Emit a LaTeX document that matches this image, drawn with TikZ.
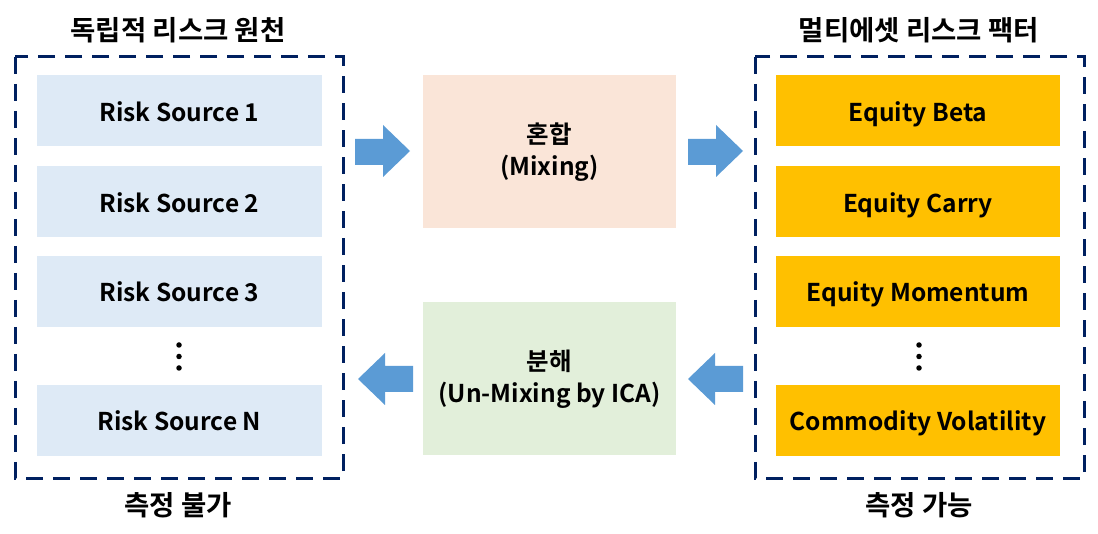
\documentclass[tikz,border=0pt]{standalone}
\usepackage{fontspec}
\setmainfont{Noto Sans CJK KR}[BoldFont={Noto Sans CJK KR Bold}]
\begin{document}
\begin{tikzpicture}[x=1pt,y=-1pt,
  src/.style={fill=blueL,draw=none,minimum width=285pt,minimum height=71pt,inner sep=0pt,text height=21pt,text depth=0pt,font=\bfseries\fontsize{24.5}{28}\selectfont},
  fac/.style={fill=gold,draw=none,minimum width=284pt,minimum height=71pt,inner sep=0pt,text height=21pt,text depth=0pt,font=\bfseries\fontsize{24.5}{28}\selectfont},
  mid/.style={draw=none,minimum width=253pt,minimum height=153pt,align=center,font=\bfseries\fontsize{24.5}{32}\selectfont},
  frame/.style={draw=navy,line width=3pt,dash pattern=on 17pt off 10pt},
  ttl/.style={font=\bfseries\fontsize{27.5}{30}\selectfont},
  bigarrow/.style={fill=arrowblue,draw=none},
  dotc/.style={circle,fill=black,inner sep=0pt,minimum size=5.5pt}]
\definecolor{blueL}{HTML}{DEEAF6}
\definecolor{gold}{HTML}{FFC000}
\definecolor{navy}{HTML}{002060}
\definecolor{arrowblue}{HTML}{5B9BD5}
\definecolor{peach}{HTML}{FAE5D8}
\definecolor{greenL}{HTML}{E2EFDA}
\useasboundingbox (0,0) rectangle (1098,534);
% frames
\draw[frame] (15,57) rectangle (343,478);
\draw[frame] (755,57) rectangle (1084,478);
% titles
\node[ttl] (t1) at (178,30) {독립적 리스크 원천};
\node[ttl] (t2) at (919,30) {멀티에셋 리스크 팩터};
\node[ttl] (b1) at (178,505) {측정 불가};
\node[ttl] (b2) at (919,505) {측정 가능};
% left boxes
\node[src] (s1) at (179.5,111) {Risk Source 1};
\node[src] (s2) at (179.5,202) {Risk Source 2};
\node[src] (s3) at (179.5,291.5) {Risk Source 3};
\node[src] (sn) at (179.5,420.5) {Risk Source N};
\node[dotc] (d1a) at (179,345) {};
\node[dotc] (d1b) at (179,356.5) {};
\node[dotc] (d1c) at (179,368) {};
% right boxes
\node[fac] (f1) at (918,111) {Equity Beta};
\node[fac] (f2) at (918,202) {Equity Carry};
\node[fac] (f3) at (918,291.5) {Equity Momentum};
\node[fac] (fn) at (918,420.5) {Commodity Volatility};
\node[dotc] (d2a) at (919,345) {};
\node[dotc] (d2b) at (919,356.5) {};
\node[dotc] (d2c) at (919,368) {};
% middle
\node[mid,fill=peach] (mix) at (549.5,152) {혼합\\(Mixing)};
\node[mid,fill=greenL] (unmix) at (549.5,379) {분해\\(Un-Mixing by ICA)};
% arrows
\fill[bigarrow] (355,139) -- (383,139) -- (383,125) -- (410,151) -- (383,177) -- (383,165) -- (355,165) -- cycle;
\fill[bigarrow] (688,139) -- (716,139) -- (716,125) -- (743,151) -- (716,177) -- (716,165) -- (688,165) -- cycle;
\fill[bigarrow] (413,366) -- (385,366) -- (385,353) -- (358,379) -- (385,405) -- (385,392) -- (413,392) -- cycle;
\fill[bigarrow] (743,366) -- (715,366) -- (715,353) -- (688,379) -- (715,405) -- (715,392) -- (743,392) -- cycle;
\end{tikzpicture}
\end{document}
